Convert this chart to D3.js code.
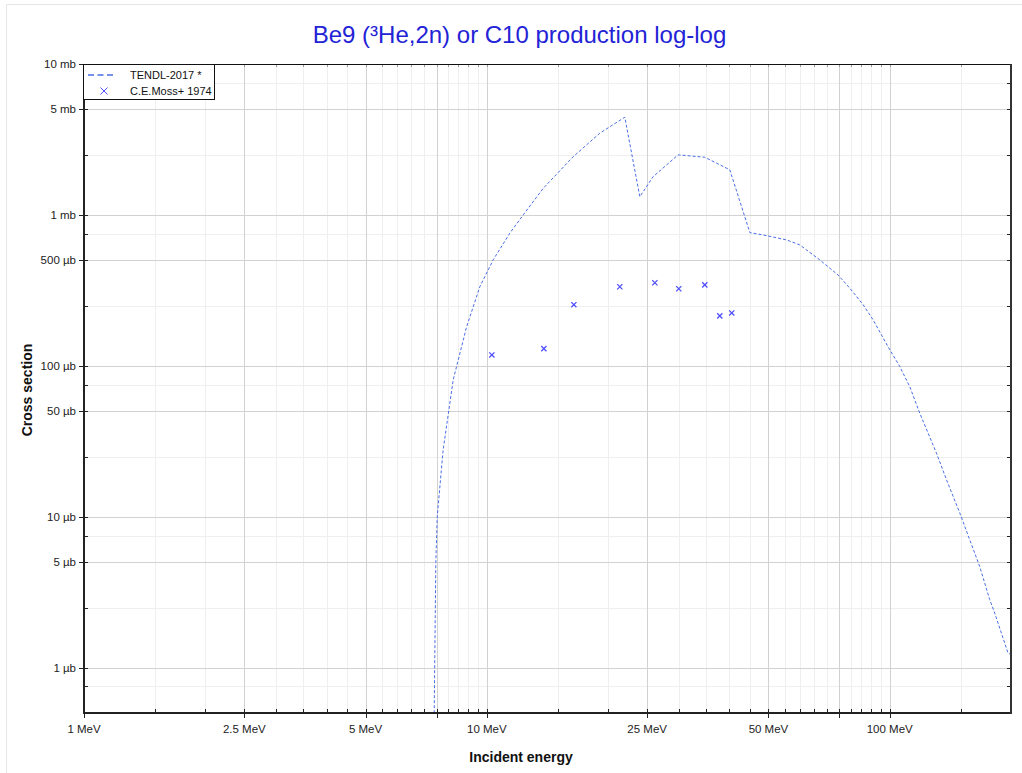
<!DOCTYPE html>
<html>
<head>
<meta charset="utf-8">
<script src="https://cdn.jsdelivr.net/npm/d3@7"></script>
<style>
  html, body { margin: 0; padding: 0; background: #fff; }
  svg { display: block; font-family: "Liberation Sans", Arial, sans-serif; }
</style>
</head>
<body>
<svg id="chart" width="1022" height="773"></svg>
<script>
// ---------------- data ----------------
const titleText = "Be9 (\u00B3He,2n) or C10 production log-log";
const xAxisTitle = "Incident energy";
const yAxisTitle = "Cross section";

// TENDL-2017 evaluated curve: energy (MeV), cross section (mb)
const tendlE  = [1, 7.40, 7.47, 7.53, 7.79, 8.25, 8.91, 9.61, 10.37, 11.40, 12.31, 13.80, 16.38, 19.07, 22.00,
                 23.97, 25.86, 29.84, 34.75, 40.09, 44.96, 49.43, 55.4, 59.8, 67.0, 74.4, 79.6, 85.9, 90.9,
                 99.0, 105.9, 112.1, 118.7, 130.6, 138.3, 149.2, 157.9, 167.2, 177.1, 182.2, 196.6, 200];
const tendlXS = [0, 0, 0.00496, 0.0100, 0.0278, 0.0807, 0.182, 0.335, 0.504, 0.756, 1.00, 1.50, 2.43, 3.48, 4.44,
                 1.32, 1.79, 2.50, 2.41, 1.99, 0.763, 0.729, 0.683, 0.633, 0.504, 0.400, 0.327, 0.254, 0.202,
                 0.134, 0.0989, 0.0729, 0.0486, 0.0264, 0.0176, 0.0106, 0.00705, 0.00469, 0.00282, 0.00230, 0.00125, 0.00122];

// C.E.Moss+ 1974 measurements: energy (MeV), cross section (mb)
const mossE  = [10.29, 13.85, 16.44, 21.38, 26.12, 29.95, 34.75, 37.86, 40.54];
const mossXS = [0.118, 0.130, 0.254, 0.334, 0.355, 0.324, 0.344, 0.214, 0.224];

const seriesNames = ["TENDL-2017 *", "C.E.Moss+ 1974"];

// axis ticks
const xDomain = [1, 200];
const xLabelTicks = [1, 2.5, 5, 10, 25, 50, 100];
const xLabelTexts = ["1 MeV", "2.5 MeV", "5 MeV", "10 MeV", "25 MeV", "50 MeV", "100 MeV"];
const xMajorTicks = [1, 2.5, 5, 7.5, 10, 25, 50, 75, 100];
const xMinorTicks = [1.5, 2, 3, 3.5, 4, 4.5, 5.5, 6, 6.5, 7, 8, 8.5, 9, 9.5,
                     15, 20, 30, 35, 40, 45, 55, 60, 65, 70, 80, 85, 90, 95, 150];

const yDomain = [0.0005, 10];
const yLabelTicks = [10, 5, 1, 0.5, 0.1, 0.05, 0.01, 0.005, 0.001];
const yLabelTexts = ["10 mb", "5 mb", "1 mb", "500 \u00B5b", "100 \u00B5b", "50 \u00B5b", "10 \u00B5b", "5 \u00B5b", "1 \u00B5b"];
const yMinorTicks = [7.5, 2.5, 0.75, 0.25, 0.075, 0.025, 0.0075, 0.0025, 0.00075];

// ---------------- layout ----------------
const W = 1022, H = 773;
const L = 84, R = 1011, T = 64, B = 713;

const svg = d3.select("#chart");

// faint outer frame
svg.append("path").attr("d", `M6.5,${H} V4.5 H${W}`)
  .attr("fill", "none").attr("stroke", "#e6e6e6").attr("stroke-width", 1);

const x = d3.scaleLog().domain(xDomain).range([L, R]);
const y = d3.scaleLog().domain(yDomain).range([B, T]).clamp(true);

const g = svg.append("g");

// grid
const grid = g.append("g");
grid.selectAll(".xminor").data(xMinorTicks).join("line")
  .attr("x1", d => Math.round(x(d)) + 0.5).attr("x2", d => Math.round(x(d)) + 0.5)
  .attr("y1", T).attr("y2", B).attr("stroke", "#efefef").attr("stroke-width", 1);
grid.selectAll(".yminor").data(yMinorTicks).join("line")
  .attr("x1", L).attr("x2", R)
  .attr("y1", d => Math.round(y(d)) + 0.5).attr("y2", d => Math.round(y(d)) + 0.5)
  .attr("stroke", "#efefef").attr("stroke-width", 1);
grid.selectAll(".xmajor").data(xMajorTicks).join("line")
  .attr("x1", d => Math.round(x(d)) + 0.5).attr("x2", d => Math.round(x(d)) + 0.5)
  .attr("y1", T).attr("y2", B).attr("stroke", "#d2d2d2").attr("stroke-width", 1);
grid.selectAll(".ymajor").data(yLabelTicks).join("line")
  .attr("x1", L).attr("x2", R)
  .attr("y1", d => Math.round(y(d)) + 0.5).attr("y2", d => Math.round(y(d)) + 0.5)
  .attr("stroke", "#d2d2d2").attr("stroke-width", 1);

// clip
svg.append("clipPath").attr("id", "clip").append("rect")
  .attr("x", L).attr("y", T).attr("width", R - L).attr("height", B - T + 1);

// TENDL curve
const tendl = tendlE.map((e, i) => [e, tendlXS[i]]);
const line = d3.line().x(d => x(d[0])).y(d => y(d[1]));
g.append("path").datum(tendl)
  .attr("clip-path", "url(#clip)")
  .attr("d", line)
  .attr("fill", "none")
  .attr("stroke", "#4a6ee6")
  .attr("stroke-width", 1)
  .attr("stroke-dasharray", "3,2");

// Moss points
const moss = mossE.map((e, i) => [e, mossXS[i]]);
const ms = 2.6;
g.selectAll(".moss").data(moss).join("path")
  .attr("d", d => {
    const cx = x(d[0]), cy = y(d[1]);
    return `M${cx - ms},${cy - ms}L${cx + ms},${cy + ms}M${cx - ms},${cy + ms}L${cx + ms},${cy - ms}`;
  })
  .attr("stroke", "#4f4fff").attr("stroke-width", 1.3).attr("fill", "none");

// frame + ticks
const axisColor = "#222";
const ax = svg.append("g");
// x ticks bottom & top
ax.selectAll(".xmt").data(xMajorTicks).join("line")
  .attr("x1", d => Math.round(x(d)) + 0.5).attr("x2", d => Math.round(x(d)) + 0.5)
  .attr("y1", B - 4).attr("y2", B + 5).attr("stroke", axisColor).attr("stroke-width", 1);
ax.selectAll(".xnt").data(xMinorTicks).join("line")
  .attr("x1", d => Math.round(x(d)) + 0.5).attr("x2", d => Math.round(x(d)) + 0.5)
  .attr("y1", B - 4).attr("y2", B).attr("stroke", axisColor).attr("stroke-width", 1);
ax.selectAll(".xtt").data(xMajorTicks.concat(xMinorTicks)).join("line")
  .attr("x1", d => Math.round(x(d)) + 0.5).attr("x2", d => Math.round(x(d)) + 0.5)
  .attr("y1", T).attr("y2", T + 3).attr("stroke", "#999").attr("stroke-width", 1);
// y ticks left & right
ax.selectAll(".ymt").data(yLabelTicks).join("line")
  .attr("x1", L - 5).attr("x2", L + 4)
  .attr("y1", d => Math.round(y(d)) + 0.5).attr("y2", d => Math.round(y(d)) + 0.5)
  .attr("stroke", axisColor).attr("stroke-width", 1);
ax.selectAll(".ynt").data(yMinorTicks).join("line")
  .attr("x1", L).attr("x2", L + 4)
  .attr("y1", d => Math.round(y(d)) + 0.5).attr("y2", d => Math.round(y(d)) + 0.5)
  .attr("stroke", axisColor).attr("stroke-width", 1);
ax.selectAll(".yrt").data(yLabelTicks.concat(yMinorTicks)).join("line")
  .attr("x1", R - 4).attr("x2", R)
  .attr("y1", d => Math.round(y(d)) + 0.5).attr("y2", d => Math.round(y(d)) + 0.5)
  .attr("stroke", axisColor).attr("stroke-width", 1);

// frame lines
ax.append("line").attr("x1", L).attr("x2", R).attr("y1", T + 0.5).attr("y2", T + 0.5)
  .attr("stroke", "#111").attr("stroke-width", 1);
ax.append("line").attr("x1", L).attr("x2", R + 1).attr("y1", B).attr("y2", B)
  .attr("stroke", axisColor).attr("stroke-width", 2);
ax.append("line").attr("x1", L).attr("x2", L).attr("y1", T).attr("y2", B + 1)
  .attr("stroke", axisColor).attr("stroke-width", 2);
ax.append("line").attr("x1", R).attr("x2", R).attr("y1", T).attr("y2", B + 1)
  .attr("stroke", "#333").attr("stroke-width", 2);

// tick labels
ax.selectAll(".xl").data(xLabelTicks).join("text")
  .attr("x", d => x(d)).attr("y", B + 20)
  .attr("text-anchor", "middle").attr("font-size", "11.5px").attr("fill", "#222")
  .text((d, i) => xLabelTexts[i]);
ax.selectAll(".yl").data(yLabelTicks).join("text")
  .attr("x", L - 8).attr("y", d => y(d) + 4)
  .attr("text-anchor", "end").attr("font-size", "11.5px").attr("fill", "#222")
  .text((d, i) => yLabelTexts[i]);

// axis titles
svg.append("text").attr("x", 521).attr("y", 762)
  .attr("text-anchor", "middle").attr("font-size", "14px").attr("font-weight", "bold").attr("fill", "#111")
  .text(xAxisTitle);
svg.append("text").attr("transform", "translate(32,390) rotate(-90)")
  .attr("text-anchor", "middle").attr("font-size", "14px").attr("font-weight", "bold").attr("fill", "#111")
  .text(yAxisTitle);

// title
svg.append("text").attr("x", 519.5).attr("y", 43)
  .attr("text-anchor", "middle").attr("font-size", "24px").attr("fill", "#2323d6")
  .text(titleText);

// legend
const lg = svg.append("g");
lg.append("rect").attr("x", L - 0.5).attr("y", T + 0.5).attr("width", 131).attr("height", 35)
  .attr("fill", "#fff").attr("stroke", "#111").attr("stroke-width", 1);
lg.append("line").attr("x1", 88).attr("x2", 116).attr("y1", 75).attr("y2", 75)
  .attr("stroke", "#4a6ee6").attr("stroke-width", 1.5).attr("stroke-dasharray", "6,3.5");
lg.append("path")
  .attr("d", `M${104 - 3.5},${91 - 3.5}L${104 + 3.5},${91 + 3.5}M${104 - 3.5},${91 + 3.5}L${104 + 3.5},${91 - 3.5}`)
  .attr("stroke", "#4f4fff").attr("stroke-width", 1).attr("fill", "none");
lg.selectAll(".lt").data(seriesNames).join("text")
  .attr("x", 130).attr("y", (d, i) => 79 + i * 16)
  .attr("font-size", "11px").attr("fill", "#111")
  .text(d => d);
</script>
</body>
</html>
